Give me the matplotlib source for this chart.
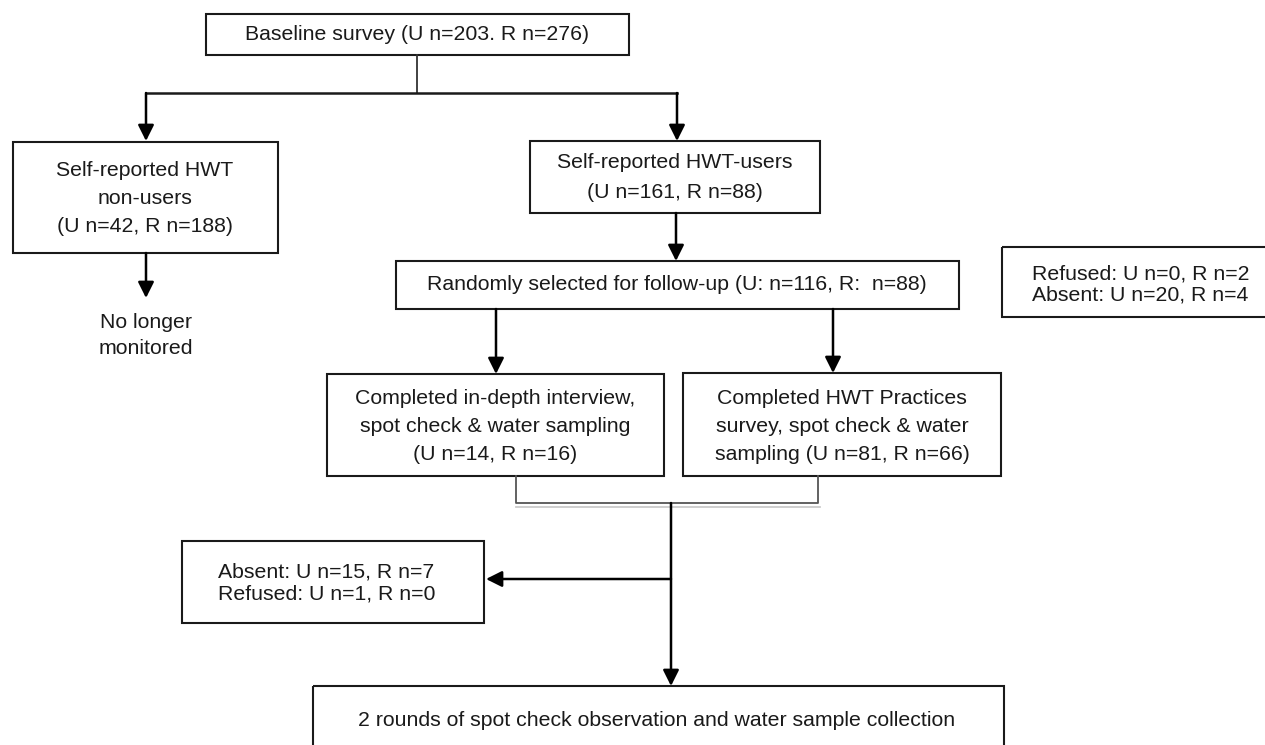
import matplotlib
matplotlib.use("Agg")
from matplotlib import pyplot as plt
from matplotlib.patches import Rectangle

plt.rcParams['font.family'] = ['Liberation Sans', 'DejaVu Sans']

# Texto de cada caixa (linhas)
baseline_lines = ["Baseline survey (U n=203. R n=276)"]
nonusers_lines = ["Self-reported HWT", "non-users", "(U n=42, R n=188)"]
nolonger_lines = ["No longer", "monitored"]
users_lines = ["Self-reported HWT-users", "(U n=161, R n=88)"]
random_lines = ["Randomly selected for follow-up (U: n=116, R:  n=88)"]
lost1_lines = ["Refused: U n=0, R n=2", "Absent: U n=20, R n=4"]
interview_lines = ["Completed in-depth interview,", "spot check & water sampling", "(U n=14, R n=16)"]
practices_lines = ["Completed HWT Practices", "survey, spot check & water", "sampling (U n=81, R n=66)"]
lost2_lines = ["Absent: U n=15, R n=7", "Refused: U n=1, R n=0"]
final_lines = ["2 rounds of spot check observation and water sample collection"]

# Layout em pixels: caixa (x0, y0, x1, y1), posição do texto, alinhamento
layout = [
    (baseline_lines, (206, 14, 629, 55), 417, [34], 'center'),
    (nonusers_lines, (13, 142, 278, 253), 145, [170, 198, 227], 'center'),
    (nolonger_lines, None, 146, [322, 349], 'center'),
    (users_lines, (530, 141, 820, 213), 675, [163, 192], 'center'),
    (random_lines, (396, 261, 959, 309), 677, [285], 'center'),
    (lost1_lines, (1002, 247, 1268, 317), 1032, [274, 295], 'left'),
    (interview_lines, (327, 374, 664, 476), 495, [398, 427, 455], 'center'),
    (practices_lines, (683, 373, 1001, 476), 842, [398, 427, 455], 'center'),
    (lost2_lines, (182, 541, 484, 623), 218, [572, 594], 'left'),
    (final_lines, (313, 686, 1004, 770), 657, [720], 'center'),
]

# setas: (inicio, fim)
arrows = [
    ((146, 93), (146, 141)),
    ((677, 93), (677, 141)),
    ((146, 253), (146, 298)),
    ((676, 213), (676, 261)),
    ((496, 309), (496, 374)),
    ((833, 309), (833, 373)),
    ((671, 503), (671, 686)),
    ((671, 579), (486, 579)),
]

fig = plt.figure(figsize=(12.65, 7.45), dpi=100)
ax = fig.add_axes([0, 0, 1, 1])
ax.set_xlim(0, 1265)
ax.set_ylim(745, 0)
ax.axis('off')

for lines, box, tx, tys, ha in layout:
    if box is not None:
        x0, y0, x1, y1 = box
        ax.add_patch(Rectangle((x0, y0), x1 - x0, y1 - y0, fill=False,
                               edgecolor='#1a1a1a', linewidth=1.5, clip_on=True))
    for line, ty in zip(lines, tys):
        ax.text(tx, ty, line, ha=ha, va='center', fontsize=15.3, color='#1a1a1a')

# linhas de ligação
ax.plot([417, 417], [55, 93], color='#333333', linewidth=1.3)
ax.plot([146, 677], [93, 93], color='#1a1a1a', linewidth=1.8)
ax.plot([516, 516, 818, 818], [476, 503, 503, 476], color='#555555', linewidth=1.3)
ax.plot([516, 820], [507, 507], color='#cccccc', linewidth=1.3)

for start, end in arrows:
    ax.annotate('', xy=end, xytext=start,
                arrowprops=dict(arrowstyle='-|>', color='black', linewidth=1.8,
                                mutation_scale=24, shrinkA=0, shrinkB=0))

fig.savefig('out.png', dpi=100)
